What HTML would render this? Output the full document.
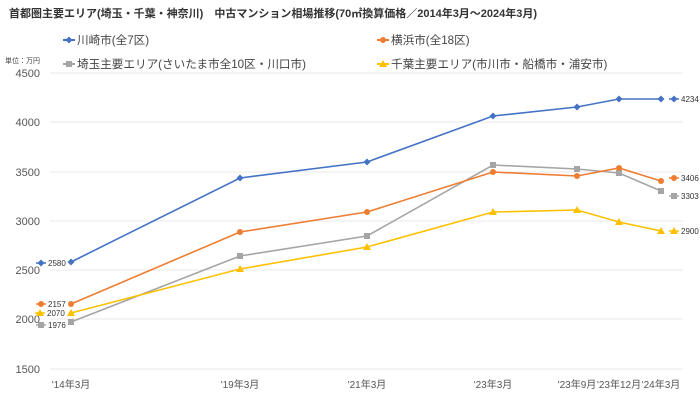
<!DOCTYPE html>
<html><head><meta charset="utf-8"><style>
body{margin:0;background:#fff}
svg{display:block;font-family:"Liberation Sans","Noto Sans CJK JP",sans-serif}
</style></head><body>
<svg width="700" height="417" viewBox="0 0 700 417">
<defs>
<g id="dia"><path d="M0,-3.5L3.5,0L0,3.5L-3.5,0Z"/></g>
</defs>
<text x="9" y="17" font-size="11" font-weight="bold" fill="#333">首都圏主要エリア(埼玉・千葉・神奈川)　中古マンション相場推移(70㎡換算価格／2014年3月～2024年3月)</text>
<g font-size="11.6" fill="#444">
<line x1="63" y1="40" x2="75" y2="40" stroke="#4472C4" stroke-width="2"/><use href="#dia" x="69" y="40" fill="#4472C4"/><text x="77" y="44">川崎市(全7区)</text>
<line x1="377" y1="40" x2="389" y2="40" stroke="#ED7D31" stroke-width="2"/><circle cx="383" cy="40" r="3" fill="#ED7D31"/><text x="391" y="44">横浜市(全18区)</text>
<line x1="63" y1="64" x2="75" y2="64" stroke="#A5A5A5" stroke-width="2"/><rect x="66" y="61" width="6" height="6" fill="#A5A5A5"/><text x="77" y="68">埼玉主要エリア(さいたま市全10区・川口市)</text>
<line x1="377" y1="64" x2="389" y2="64" stroke="#FFC000" stroke-width="2"/><path d="M383,60L387,67L379,67Z" fill="#FFC000"/><text x="391" y="68">千葉主要エリア(市川市・船橋市・浦安市)</text>
</g>
<text x="5" y="63" font-size="7" fill="#444">単位：万円</text>
<g stroke="#e8e8e8" stroke-width="1">
<line x1="50" y1="73" x2="683" y2="73"/><line x1="50" y1="122" x2="683" y2="122"/><line x1="50" y1="172" x2="683" y2="172"/><line x1="50" y1="221" x2="683" y2="221"/><line x1="50" y1="270" x2="683" y2="270"/><line x1="50" y1="319" x2="683" y2="319"/><line x1="50" y1="369" x2="683" y2="369"/>
</g>
<g font-size="11" fill="#555" text-anchor="end">
<text x="40" y="77">4500</text><text x="40" y="126">4000</text><text x="40" y="176">3500</text><text x="40" y="225">3000</text><text x="40" y="274">2500</text><text x="40" y="323">2000</text><text x="40" y="373">1500</text>
</g>
<g font-size="10" fill="#555" text-anchor="middle">
<text x="71" y="388">'14年3月</text><text x="240" y="388">'19年3月</text><text x="367" y="388">'21年3月</text><text x="493" y="388">'23年3月</text><text x="577" y="388">'23年9月</text><text x="619" y="388">'23年12月</text><text x="661" y="388">'24年3月</text>
</g>
<g fill="none" stroke-width="1.6">
<polyline stroke="#4472C4" points="71,262 240,178 367,162 493,116 577,107 619,99 661,99"/>
<polyline stroke="#A5A5A5" points="71,322 240,256 367,236 493,165 577,169 619,173 661,191"/>
<polyline stroke="#ED7D31" points="71,304 240,232 367,212 493,172 577,176 619,168 661,181"/>
<polyline stroke="#FFC000" points="71,313 240,269 367,247 493,212 577,210 619,222 661,231"/>
</g>
<g fill="#4472C4"><use href="#dia" x="71" y="262"/><use href="#dia" x="240" y="178"/><use href="#dia" x="367" y="162"/><use href="#dia" x="493" y="116"/><use href="#dia" x="577" y="107"/><use href="#dia" x="619" y="99"/><use href="#dia" x="661" y="99"/></g>
<g fill="#A5A5A5"><rect x="68" y="319" width="6" height="6"/><rect x="237" y="253" width="6" height="6"/><rect x="364" y="233" width="6" height="6"/><rect x="490" y="162" width="6" height="6"/><rect x="574" y="166" width="6" height="6"/><rect x="616" y="170" width="6" height="6"/><rect x="658" y="188" width="6" height="6"/></g>
<g fill="#ED7D31"><circle cx="71" cy="304" r="3"/><circle cx="240" cy="232" r="3"/><circle cx="367" cy="212" r="3"/><circle cx="493" cy="172" r="3"/><circle cx="577" cy="176" r="3"/><circle cx="619" cy="168" r="3"/><circle cx="661" cy="181" r="3"/></g>
<g fill="#FFC000"><path d="M71,309L75,316L67,316Z"/><path d="M240,265L244,272L236,272Z"/><path d="M367,243L371,250L363,250Z"/><path d="M493,208L497,215L489,215Z"/><path d="M577,206L581,213L573,213Z"/><path d="M619,218L623,225L615,225Z"/><path d="M661,227L665,234L657,234Z"/></g>
<g font-size="8" fill="#333">
<line x1="36" y1="263" x2="46" y2="263" stroke="#4472C4" stroke-width="1.5"/><use href="#dia" x="41" y="263" fill="#4472C4"/><text x="48" y="266">2580</text>
<line x1="36" y1="304" x2="46" y2="304" stroke="#ED7D31" stroke-width="1.5"/><circle cx="41" cy="304" r="3" fill="#ED7D31"/><text x="48" y="307">2157</text>
<line x1="35" y1="313" x2="45" y2="313" stroke="#FFC000" stroke-width="1.5"/><path d="M40,309L44,316L36,316Z" fill="#FFC000"/><text x="47" y="316">2070</text>
<line x1="36" y1="325" x2="46" y2="325" stroke="#A5A5A5" stroke-width="1.5"/><rect x="38" y="322" width="6" height="6" fill="#A5A5A5"/><text x="48" y="328">1976</text>
<line x1="669" y1="99" x2="679" y2="99" stroke="#4472C4" stroke-width="1.5"/><use href="#dia" x="674" y="99" fill="#4472C4"/><text x="681" y="102">4234</text>
<line x1="669" y1="178" x2="679" y2="178" stroke="#ED7D31" stroke-width="1.5"/><circle cx="674" cy="178" r="3" fill="#ED7D31"/><text x="681" y="181">3406</text>
<line x1="669" y1="196" x2="679" y2="196" stroke="#A5A5A5" stroke-width="1.5"/><rect x="671" y="193" width="6" height="6" fill="#A5A5A5"/><text x="681" y="199">3303</text>
<line x1="669" y1="231" x2="679" y2="231" stroke="#FFC000" stroke-width="1.5"/><path d="M674,227L678,234L670,234Z" fill="#FFC000"/><text x="681" y="234">2900</text>
</g>
</svg>
</body></html>
